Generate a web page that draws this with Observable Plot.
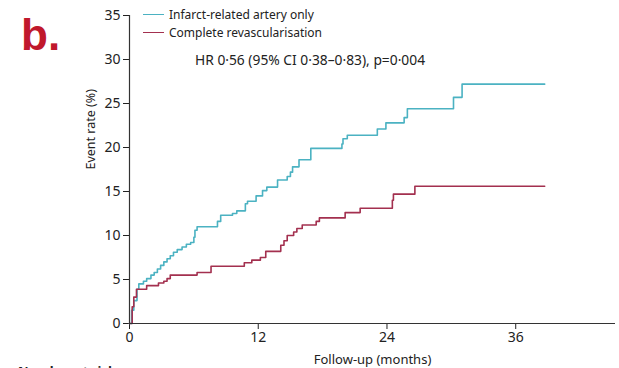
<!DOCTYPE html>
<html>
<head>
<meta charset="utf-8">
<script src="https://cdn.jsdelivr.net/npm/d3@7"></script>
<script src="https://cdn.jsdelivr.net/npm/@observablehq/plot@0.6"></script>
<style>
  html, body { margin: 0; padding: 0; background: #fff; overflow: hidden; }
  #wrap { position: relative; width: 619px; height: 368px; font-family: "Noto Sans", sans-serif; color: #222; }
  #panel { position: absolute; left: 21px; top: 10px; font: bold 44px "Liberation Sans", Arial, sans-serif; color: #c0182c; }
  .key { position: absolute; left: 143px; font-size: 12px; display: flex; align-items: center; white-space: nowrap; }
  .key span.sw { display: inline-block; width: 21px; height: 0; border-top: 1.3px solid; margin-right: 5px; }
  #hr { position: absolute; left: 195px; top: 50px; font-size: 13.8px; white-space: nowrap; }
  #risk { position: absolute; left: 18px; top: 362px; font-size: 13px; font-weight: bold; white-space: nowrap; }
</style>
</head>
<body>
<div id="wrap">
  <div id="chart"></div>
  <div id="panel">b.</div>
  <div id="legend"></div>
  <div id="hr"></div>
  <div id="risk">Number at risk</div>
</div>
<script>
// Cumulative event rate (%) over follow-up (months), Kaplan–Meier style steps
const seriesNames = ["Infarct-related artery only", "Complete revascularisation"];
const seriesColors = ["#4bb2c2", "#a3304f"];

const iraMonths = [0, 0.2, 0.4, 0.7, 0.87, 1.3, 1.6, 2.0, 2.3, 2.6, 2.9, 3.2, 3.5, 3.8, 4.1, 4.45, 4.9, 5.3, 5.7, 6.0, 6.1, 6.3, 8.2, 8.5, 9.6, 10.0, 10.8, 11.0, 11.8, 12.4, 12.8, 13.8, 14.7, 15.0, 15.2, 15.8, 16.9, 19.8, 19.9, 20.3, 23.1, 23.9, 25.6, 25.9, 30.2, 31.0, 38.7];
const iraRates  = [0, 1.5, 2.6, 3.9, 4.5, 4.8, 5.1, 5.5, 5.8, 6.2, 6.6, 7.0, 7.35, 7.7, 8.1, 8.4, 8.7, 9.0, 9.2, 9.8, 10.6, 11.0, 11.6, 12.3, 12.5, 12.8, 13.6, 13.9, 14.5, 15.1, 15.5, 16.3, 16.7, 17.2, 17.8, 18.6, 19.9, 20.4, 21.0, 21.4, 22.1, 22.8, 23.4, 24.4, 25.7, 27.2, 27.2];

const crMonths = [0, 0.25, 0.4, 0.65, 1.6, 2.7, 3.2, 3.5, 3.8, 6.3, 7.6, 10.7, 11.4, 12.2, 12.7, 14.1, 14.4, 14.7, 15.3, 15.6, 16.1, 17.4, 17.7, 20.1, 21.5, 24.5, 24.6, 26.6, 38.7];
const crRates  = [0, 1.9, 3.0, 3.9, 4.3, 4.6, 4.8, 5.1, 5.5, 5.8, 6.5, 6.9, 7.2, 7.5, 8.2, 8.9, 9.4, 10.0, 10.4, 10.8, 11.2, 11.6, 12.0, 12.6, 13.1, 14.0, 14.7, 15.6, 15.6];

const xTicks = [0, 12, 24, 36];
const yTicks = [0, 5, 10, 15, 20, 25, 30, 35];
const xLabel = "Follow-up (months)";
const yLabel = "Event rate (%)";
const annotation = "HR 0·56 (95% CI 0·38–0·83), p=0·004";

const rows = [
  ...iraMonths.map((m, i) => ({group: seriesNames[0], month: m, rate: iraRates[i]})),
  ...crMonths.map((m, i) => ({group: seriesNames[1], month: m, rate: crRates[i]}))
];

const chart = Plot.plot({
  width: 619,
  height: 368,
  marginLeft: 129,
  marginRight: 4,
  marginTop: 15,
  marginBottom: 45,
  style: {fontFamily: "Noto Sans, sans-serif", fontSize: "13px", color: "#222", background: "#fff"},
  x: {domain: [0, 45.3], ticks: xTicks, label: null},
  y: {domain: [0, 35], ticks: yTicks, label: null},
  color: {domain: seriesNames, range: seriesColors},
  marks: [
    Plot.axisX({ticks: xTicks, tickSize: 6, tickPadding: 3, fontSize: 14, label: null}),
    Plot.axisY({ticks: yTicks, tickSize: 6, tickPadding: 3, fontSize: 14, label: null}),
    Plot.text([xLabel], {frameAnchor: "bottom", dy: 40, fontSize: 13, fill: "#222"}),
    Plot.text([yLabel], {frameAnchor: "left", dx: -39, rotate: -90, fontSize: 12.5, fill: "#222"}),
    Plot.line(rows, {x: "month", y: "rate", z: "group", stroke: "group", curve: "step-after", strokeWidth: 1.6}),
    Plot.ruleY([0], {stroke: "#333", strokeWidth: 1.2}),
    Plot.ruleX([0], {y1: 0, y2: 35, stroke: "#333", strokeWidth: 1.2})
  ]
});
document.getElementById("chart").appendChild(chart);

// legend
const legend = document.getElementById("legend");
seriesNames.forEach((name, i) => {
  const row = document.createElement("div");
  row.className = "key";
  row.style.top = (6 + i * 18) + "px";
  row.innerHTML = `<span class="sw" style="border-color:${seriesColors[i]}"></span>${name}`;
  legend.appendChild(row);
});
document.getElementById("hr").textContent = annotation;
</script>
</body>
</html>
